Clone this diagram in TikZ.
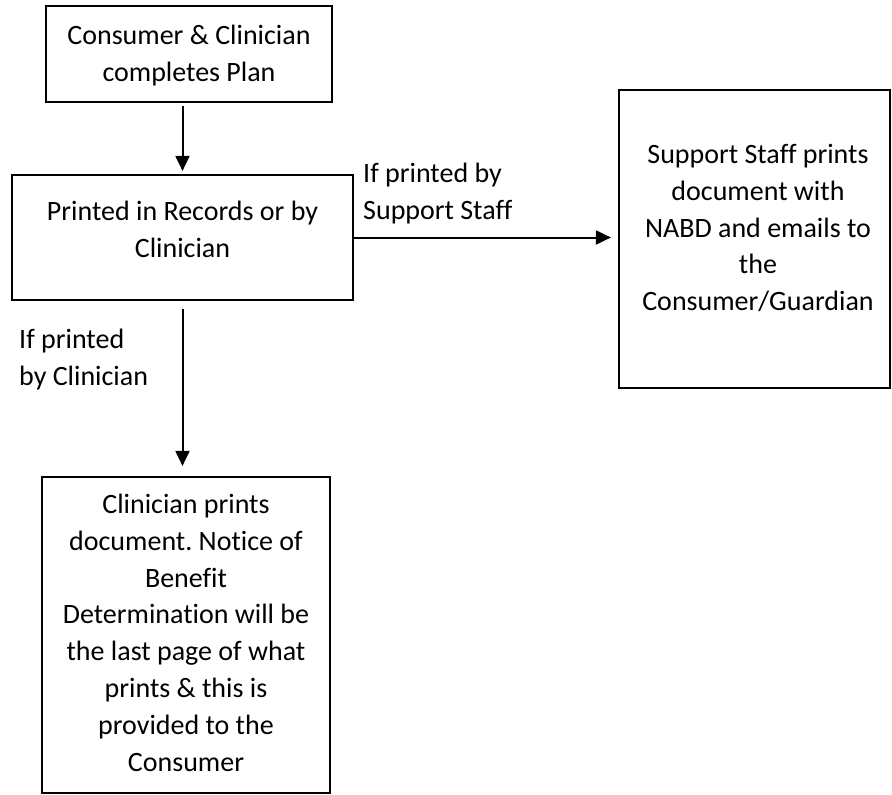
\documentclass[tikz,border=0pt]{standalone}
\usepackage{fontspec}
\setmainfont{Carlito}[Ligatures=NoCommon]
\usetikzlibrary{arrows.meta}
\frenchspacing
\begin{document}
\begin{tikzpicture}[x=1pt,y=-1pt,
  box/.style={draw=black, line width=2.2pt, inner sep=0pt},
  boxtext/.style={anchor=north, inner sep=0pt, align=center,
    font=\fontsize{28}{36.9}\selectfont},
  lbltext/.style={anchor=north west, inner sep=0pt, align=left,
    font=\fontsize{28}{36.9}\selectfont},
  flow/.style={line width=2pt, -{Triangle[length=15pt,width=14pt]}}]
  \useasboundingbox (0,0) rectangle (892,795);

  % process boxes
  \node[box, minimum width=286pt, minimum height=96pt]  (b1) at (189,54) {};
  \node[box, minimum width=341pt, minimum height=125pt] (b2) at (182.5,237.5) {};
  \node[box, minimum width=271pt, minimum height=298pt] (b3) at (754.5,239) {};
  \node[box, minimum width=288pt, minimum height=316pt] (b4) at (186,635) {};

  % box texts
  \node[boxtext] (t1) at (189,18.2) {\strut Consumer \& Clinician\\completes Plan};
  \node[boxtext] (t2) at (182.5,194.2) {\strut Printed in Records or by\\Clinician};
  \node[boxtext] (t3) at (758,137.2) {\strut Support Staff prints\\document with\\NABD and emails to\\the\\Consumer/Guardian};
  \node[boxtext] (t4) at (186,487.2) {\strut Clinician prints\\document. Notice of\\Benefit\\Determination will be\\the last page of what\\prints \& this is\\provided to the\\Consumer};

  % branch labels
  \node[lbltext] (l1) at (363,156.2) {\strut If printed by\\Support Staff};
  \node[lbltext] (l2) at (19,322.2) {\strut If printed\\by Clinician};

  % connectors
  \draw[flow, shorten <=3pt, shorten >=3pt] (b2.north |- b1.south) -- (b2.north);
  \draw[flow, shorten >=7pt] (b2.east) -- (b2.east -| b3.west);
  \draw[flow, shorten <=8pt, shorten >=10pt] (b2.south) -- (b2.south |- b4.north);
\end{tikzpicture}
\end{document}
